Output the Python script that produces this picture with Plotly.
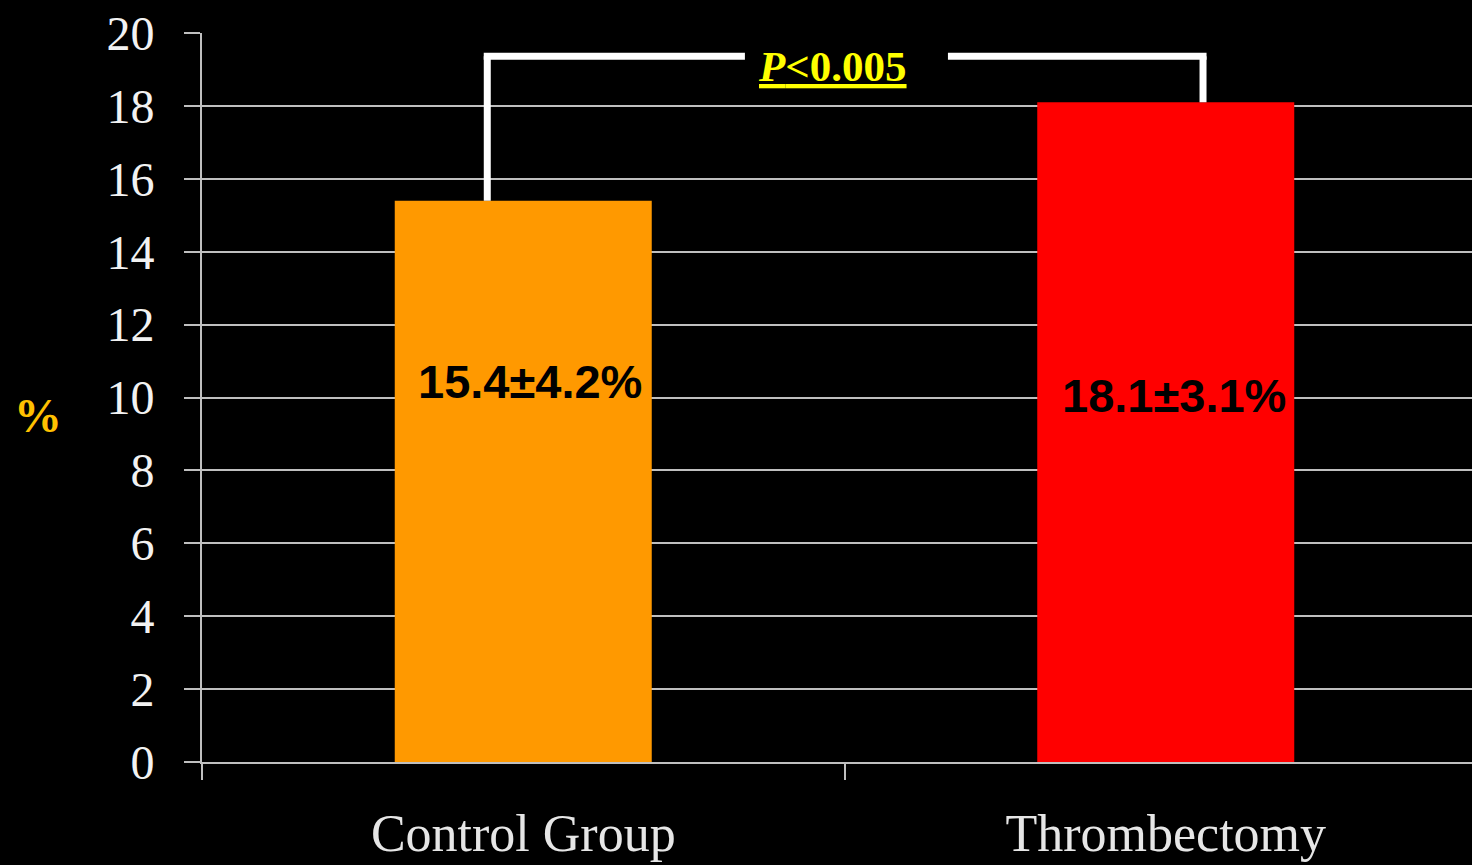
import plotly.graph_objects as go

# Data
groups = ["Control Group", "Thrombectomy"]
means = [15.4, 18.1]
sds = [4.2, 3.1]
bar_colors = ["#FF9900", "#FF0000"]
value_labels = ["15.4±4.2%", "18.1±3.1%"]
p_label = "<i>P</i><0.005"
y_ticks = [0, 2, 4, 6, 8, 10, 12, 14, 16, 18, 20]

W, H = 1472, 865
ML, MR, MT, MB = 202, 0, 33, 103
cat_px = 642.5
x_hi = -0.5 + (W - ML - MR) / cat_px
PW, PH = W - ML - MR, H - MT - MB

fig = go.Figure()
fig.add_trace(go.Bar(
    x=groups, y=means, width=0.4,
    marker=dict(color=bar_colors, line=dict(width=0)),
    hoverinfo="skip",
))

# value labels inside the bars
label_pos = [(0.01, 10.45), (0.013, 10.05)]
for i, (txt, (dx, yy)) in enumerate(zip(value_labels, label_pos)):
    fig.add_annotation(
        x=i + dx, y=yy, xref="x", yref="y", text=f"<b>{txt}</b>",
        showarrow=False, font=dict(family="Liberation Sans", size=47, color="black"),
    )

# significance bracket
top = 19.36
wl = dict(color="white", width=7)
fig.add_shape(type="line", xref="x", yref="y", x0=-0.056, x1=-0.056, y0=means[0], y1=top, line=wl)
fig.add_shape(type="line", xref="x", yref="y", x0=-0.0615, x1=0.345, y0=top, y1=top, line=wl)
fig.add_shape(type="line", xref="x", yref="y", x0=0.661, x1=1.0635, y0=top, y1=top, line=wl)
fig.add_shape(type="line", xref="x", yref="y", x0=1.058, x1=1.058, y0=top, y1=means[1], line=wl)
fig.add_annotation(
    x=0.482, y=top - 0.28, xref="x", yref="y", text=f"<u><b>{p_label}</b></u>",
    showarrow=False, yanchor="middle",
    font=dict(family="Liberation Serif", size=43, color="#FFFF00"),
)

# y-axis caption
fig.add_annotation(
    x=(12 - ML) / PW, y=(H - MB - 415) / PH,
    xref="paper", yref="paper", xanchor="left", text="<b>%</b>", showarrow=False,
    font=dict(family="Liberation Serif", size=48, color="#FFC000"),
)

axis_gray = "#BFBFBF"
fig.update_layout(
    width=W, height=H,
    margin=dict(l=ML, r=MR, t=MT, b=MB, pad=0, autoexpand=False),
    paper_bgcolor="black", plot_bgcolor="black",
    showlegend=False,
    xaxis=dict(
        type="category", range=[-0.5, x_hi], automargin=False,
        showgrid=False, zeroline=False,
        showline=True, linecolor=axis_gray, linewidth=2,
        ticks="outside", tickson="boundaries", ticklen=16, tickwidth=2, tickcolor=axis_gray,
        tickfont=dict(family="Liberation Serif", size=52, color="#E6E6E6"),
        ticklabelstandoff=25,
    ),
    yaxis=dict(
        range=[0, 20], tickvals=y_ticks, automargin=False,
        showgrid=True, gridcolor=axis_gray, gridwidth=2,
        zeroline=False,
        showline=True, linecolor=axis_gray, linewidth=2,
        ticks="outside", ticklen=16, tickwidth=2, tickcolor=axis_gray,
        tickfont=dict(family="Liberation Serif", size=48, color="#F2F2F2"),
        ticklabelstandoff=20,
    ),
)

fig.write_html("out.html")
